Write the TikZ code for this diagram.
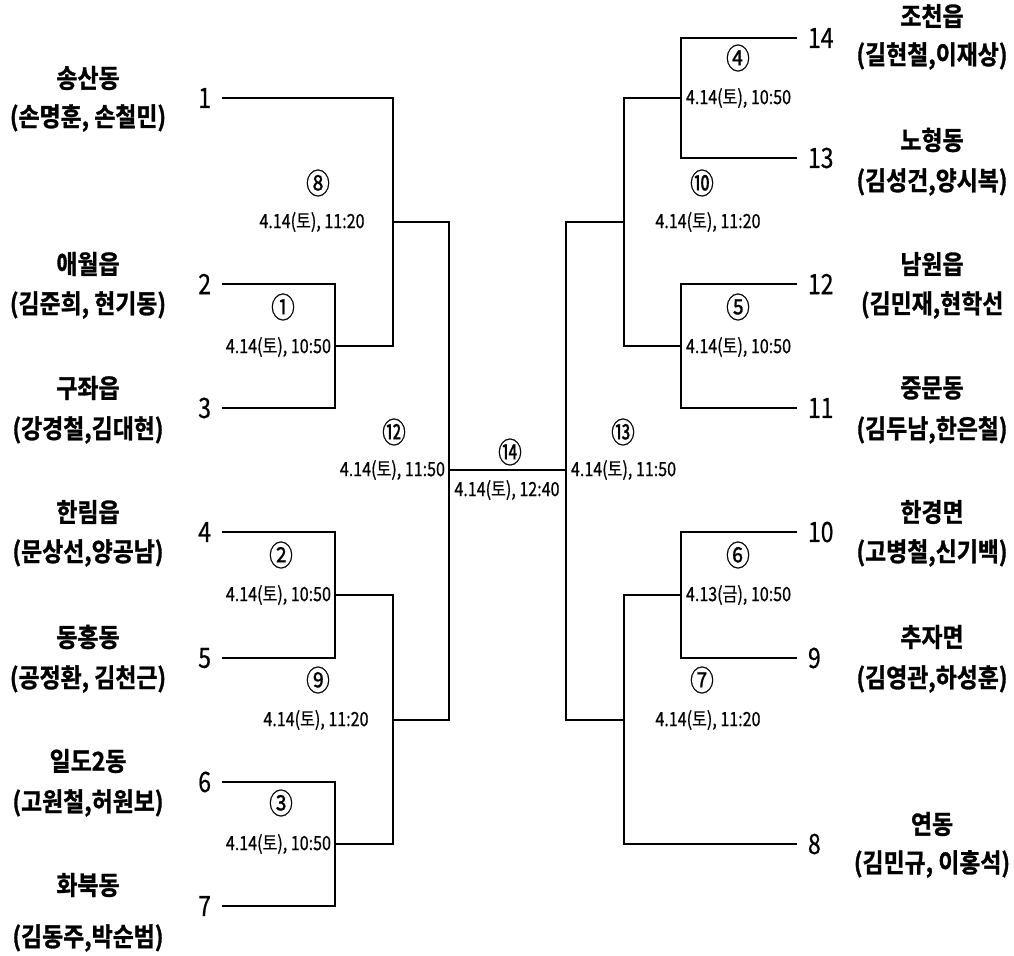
\documentclass[tikz,border=0pt]{standalone}
\usepackage{fontspec}
\setmainfont{Noto Sans CJK KR}
\newfontfamily\narrowfont[FakeStretch=0.82, FakeBold=0.6]{Noto Sans CJK KR}
\newfontfamily\teamfont[FakeStretch=0.88, FakeBold=1.2]{Noto Sans CJK KR Bold}
\usetikzlibrary{positioning}

\tikzset{
  team/.style={font=\teamfont\fontsize{13}{15}\selectfont, inner sep=0pt},
  seed/.style={font=\narrowfont\fontsize{14}{16}\selectfont, inner xsep=5pt, inner ysep=0pt},
  game/.style={font=\narrowfont\fontsize{14.5}{16}\selectfont, inner sep=0pt},
  when/.style={font=\narrowfont\fontsize{9.8}{11}\selectfont, inner sep=1pt},
}

\begin{document}
\begin{tikzpicture}[x=0.5pt, y=-0.5pt, line width=1pt]
  \useasboundingbox (0,0) rectangle (1014,955);
  % seeds, left half
  \node[seed, anchor=east] (n1) at (222,98) {1};
  \node[seed, anchor=east] (n2) at (222,284) {2};
  \node[seed, anchor=east] (n3) at (222,408) {3};
  \node[seed, anchor=east] (n4) at (222,532) {4};
  \node[seed, anchor=east] (n5) at (222,658) {5};
  \node[seed, anchor=east] (n6) at (222,782) {6};
  \node[seed, anchor=east] (n7) at (222,906) {7};
  % seeds, right half
  \node[seed, anchor=west] (n14) at (797,38) {14};
  \node[seed, anchor=west] (n13) at (797,158) {13};
  \node[seed, anchor=west] (n12) at (797,284) {12};
  \node[seed, anchor=west] (n11) at (797,408) {11};
  \node[seed, anchor=west] (n10) at (797,532) {10};
  \node[seed, anchor=west] (n9) at (797,658) {9};
  \node[seed, anchor=west] (n8) at (797,844) {8};
  % joints of the bracket
  \coordinate (m1) at (335,346);
  \coordinate (m2) at (335,595);
  \coordinate (m3) at (335,844);
  \coordinate (m8) at (393,222);
  \coordinate (m9) at (393,720);
  \coordinate (m12) at (449,470);
  \coordinate (m13) at (566,470);
  \coordinate (m4) at (681,98);
  \coordinate (m5) at (681,346);
  \coordinate (m6) at (681,595);
  \coordinate (m10) at (624,222);
  \coordinate (m7) at (624,720);
  % left bracket
  \draw (n2.east) -| (m1) |- (n3.east);
  \draw (n4.east) -| (m2) |- (n5.east);
  \draw (n6.east) -| (m3) |- (n7.east);
  \draw (n1.east) -| (m8) |- (m1);
  \draw (m2) -| (m9) |- (m3);
  \draw (m8) -| (m12) |- (m9);
  % final
  \draw (m12) -- (m13);
  % right bracket
  \draw (n14.west) -| (m4) |- (n13.west);
  \draw (n12.west) -| (m5) |- (n11.west);
  \draw (n10.west) -| (m6) |- (n9.west);
  \draw (m4) -| (m10) |- (m5);
  \draw (m6) -| (m7) |- (n8.west);
  \draw (m10) -| (m13) |- (m7);
  % teams, left
  \node[team] (a1) at (88,78) {송산동};
  \node[team] (b1) at (88,118) {(손명훈, 손철민)};
  \node[team] (a2) at (88,264) {애월읍};
  \node[team] (b2) at (88,305) {(김준희, 현기동)};
  \node[team] (a3) at (88,388) {구좌읍};
  \node[team] (b3) at (88,430) {(강경철,김대현)};
  \node[team] (a4) at (88,512) {한림읍};
  \node[team] (b4) at (88,553) {(문상선,양공남)};
  \node[team] (a5) at (88,637) {동홍동};
  \node[team] (b5) at (88,679) {(공정환, 김천근)};
  \node[team] (a6) at (88,761) {일도2동};
  \node[team] (b6) at (88,803) {(고원철,허원보)};
  \node[team] (a7) at (88,885) {화북동};
  \node[team] (b7) at (88,938) {(김동주,박순범)};
  % teams, right
  \node[team] (a14) at (932,16) {조천읍};
  \node[team] (b14) at (932,56) {(길현철,이재상)};
  \node[team] (a13) at (932,140) {노형동};
  \node[team] (b13) at (932,182) {(김성건,양시복)};
  \node[team] (a12) at (932,264) {남원읍};
  \node[team, anchor=west] (b12) at (860,305) {(김민재,현학선};
  \node[team] (a11) at (932,388) {중문동};
  \node[team] (b11) at (932,430) {(김두남,한은철)};
  \node[team] (a10) at (932,512) {한경면};
  \node[team] (b10) at (932,553) {(고병철,신기백)};
  \node[team] (a9) at (932,637) {추자면};
  \node[team] (b9) at (932,679) {(김영관,하성훈)};
  \node[team] (a8) at (932,824) {연동};
  \node[team] (b8) at (932,864) {(김민규, 이홍석)};
  % games and their times
  \node[game] (g1) at (283,307) {①};
  \node[when, anchor=east] (d1) at (334,347) {4.14(토), 10:50};
  \node[game] (g2) at (281,555) {②};
  \node[when, anchor=east] (d2) at (334,595) {4.14(토), 10:50};
  \node[game] (g3) at (281,803) {③};
  \node[when, anchor=east] (d3) at (334,844) {4.14(토), 10:50};
  \node[game] (g8) at (318,183) {⑧};
  \node[when] (d8) at (312,222) {4.14(토), 11:20};
  \node[game] (g9) at (318,680) {⑨};
  \node[when] (d9) at (316,720) {4.14(토), 11:20};
  \node[game] (g12) at (394,432) {⑫};
  \node[when, anchor=east] (d12) at (448,470) {4.14(토), 11:50};
  \node[game] (g14) at (510,452) {⑭};
  \node[when] (d14) at (507,490) {4.14(토), 12:40};
  \node[game] (g13) at (623,432) {⑬};
  \node[when, anchor=west] (d13) at (568,470) {4.14(토), 11:50};
  \node[game] (g4) at (738,58) {④};
  \node[when, anchor=west] (d4) at (683,98) {4.14(토), 10:50};
  \node[game] (g10) at (702,183) {⑩};
  \node[when] (d10) at (708,222) {4.14(토), 11:20};
  \node[game] (g5) at (738,307) {⑤};
  \node[when, anchor=west] (d5) at (683,347) {4.14(토), 10:50};
  \node[game] (g6) at (738,555) {⑥};
  \node[when, anchor=west] (d6) at (683,595) {4.13(금), 10:50};
  \node[game] (g7) at (702,680) {⑦};
  \node[when] (d7) at (708,720) {4.14(토), 11:20};
\end{tikzpicture}
\end{document}
